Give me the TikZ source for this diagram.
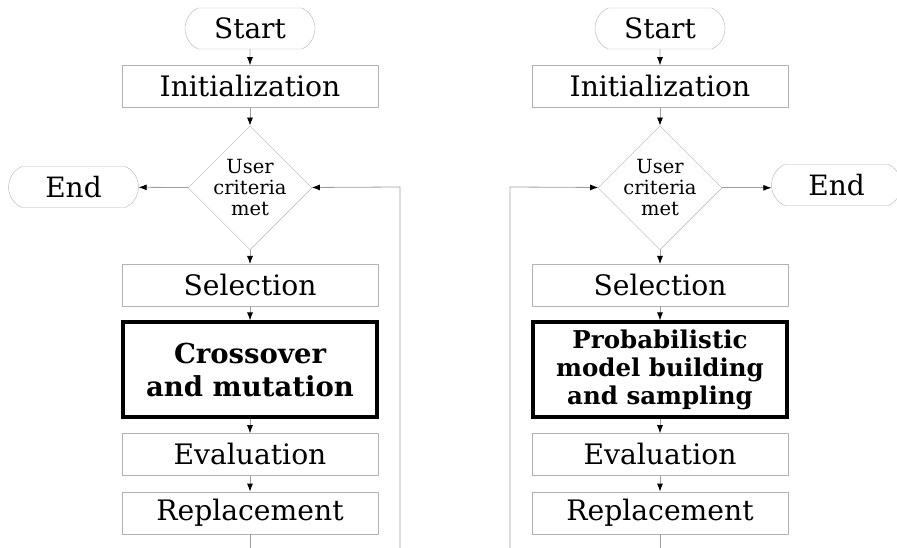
\documentclass[tikz,border=0pt]{standalone}
\usepackage{fontspec}
\setmainfont{DejaVu Serif}
\usepackage{tikz}
\usetikzlibrary{shapes.geometric,shapes.misc,positioning,arrows.meta}
\definecolor{boxgray}{gray}{0.70}
\definecolor{linegray}{gray}{0.62}

\begin{document}
\begin{tikzpicture}
[
  x=1pt, y=1pt,
  terminal/.style={rounded rectangle, rounded rectangle arc length=130, draw=boxgray, minimum width=130pt, minimum height=41pt, inner sep=0pt, font=\fontsize{28}{32}\selectfont},
  stepbox/.style={rectangle, draw=boxgray, minimum width=256pt, minimum height=42pt, inner sep=0pt, font=\fontsize{28.2}{32}\selectfont},
  decision/.style={diamond, draw=boxgray, minimum width=124pt, minimum height=124pt, inner sep=-8pt, align=center, font=\fontsize{19.5}{21}\selectfont},
  keybox/.style={rectangle, draw=black, line width=3.8pt, minimum width=254pt, minimum height=95pt, inner sep=0pt, align=center},
  flow/.style={draw=linegray, line width=0.8pt, -{Latex[length=8pt, width=6pt, color=black]}}
]
\useasboundingbox (0,0) rectangle (897,-548);

% left chart
\node (startL) [terminal] at (250,-28.5) {Start};
\node (initL) [below=16pt of startL, stepbox] {Initialization};
\node (critL) [below=18pt of initL, decision] {User\\criteria\\met};
\node (endL) [terminal] at (73.5,-187) {End};
\node (selL) [below=14pt of critL, stepbox] {Selection};
\node (varL) [below=14pt of selL, keybox, font=\bfseries\fontsize{27.5}{33}\selectfont] {Crossover\\and mutation};
\node (evalL) [below=14pt of varL, stepbox] {Evaluation};
\node (replL) [below=16pt of evalL, stepbox] {Replacement};
\coordinate (outL) at (250,-548);
\coordinate (backL) at (400,-548);
\coordinate (turnL) at (400,-187);

% right chart
\node (startR) [terminal] at (660,-28.5) {Start};
\node (initR) [below=16pt of startR, stepbox] {Initialization};
\node (critR) [below=18pt of initR, decision] {User\\criteria\\met};
\node (endR) [terminal] at (836.5,-185) {End};
\node (selR) [below=14pt of critR, stepbox] {Selection};
\node (varR) [below=14pt of selR, keybox, font=\bfseries\fontsize{24.5}{28}\selectfont] {Probabilistic\\model building\\and sampling};
\node (evalR) [below=14pt of varR, stepbox] {Evaluation};
\node (replR) [below=16pt of evalR, stepbox] {Replacement};
\coordinate (outR) at (660,-548);
\coordinate (backR) at (510,-548);
\coordinate (turnR) at (510,-187);

\foreach \s in {L,R}
{
  \foreach \i/\j in {start/init,init/crit,crit/sel,sel/var,var/eval,eval/repl}
    \draw [flow] (\i\s) -- (\j\s);
  \draw [draw=linegray, line width=0.8pt] (repl\s) -- (out\s);
  \draw [flow] (back\s) -- (turn\s) -- (crit\s);
}
\draw [flow] (critL) -- (endL);
\draw [flow] (critR.east) -- (endR.west |- critR.east);
\end{tikzpicture}
\end{document}
